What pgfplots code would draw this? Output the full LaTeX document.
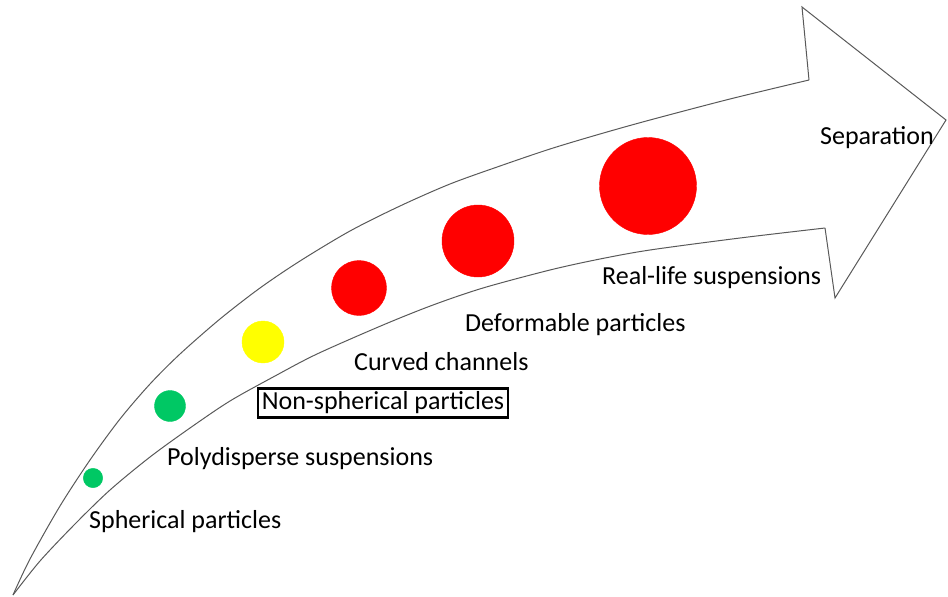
\documentclass[border=0pt]{standalone}
\usepackage{pgfplots}
\pgfplotsset{compat=1.18}
\usepackage{fontspec}
\setmainfont{Carlito}
\definecolor{pgreen}{RGB}{0,200,100}
\definecolor{pyellow}{RGB}{255,255,0}
\definecolor{pred}{RGB}{255,0,0}
\newcommand\lbl{\fontsize{26}{31}\selectfont}
\begin{document}
\begin{tikzpicture}
\begin{axis}[
  width=948pt, height=597pt, scale only axis,
  xmin=0, xmax=948, ymin=0, ymax=597, y dir=reverse,
  hide axis, clip=false,
]
% arrow outline: upper edge
\addplot[black!65, line width=1pt, smooth, tension=0.5] coordinates {
 (13,595) (30,559) (60,506) (90,460) (120,419) (150,384) (180,354) (220,319)
 (260,288) (300,261) (350,231) (400,206) (450,184) (500,166) (550,149)
 (600,134) (650,120) (730,99) (809,80)
};
% arrow head
\addplot[black!65, line width=1pt, line join=miter] coordinates {
 (809,80) (802,7) (946,120) (835,298) (825,228)
};
% lower edge
\addplot[black!65, line width=1pt, smooth, tension=0.5] coordinates {
 (825,228) (740,238) (650,250) (600,259) (550,270) (483,288) (433,305)
 (383,325) (317,354) (275,376) (230,401) (190,428) (150,457) (110,490)
 (75,524) (40,561) (13,595)
};
% particles
\addplot[only marks, mark=*, mark size=9.7pt, color=pgreen] coordinates {(93,478)};
\addplot[only marks, mark=*, mark size=15.5pt, color=pgreen] coordinates {(170,406)};
\addplot[only marks, mark=*, mark size=21pt, color=pyellow] coordinates {(263,342)};
\addplot[only marks, mark=*, mark size=27.5pt, color=pred] coordinates {(359,288)};
\addplot[only marks, mark=*, mark size=36pt, color=pred] coordinates {(478,241)};
\addplot[only marks, mark=*, mark size=48.5pt, color=pred] coordinates {(648,186)};
% labels
\node[anchor=base west, inner sep=0pt] at (axis cs:89,528) {\lbl Spherical particles};
\node[anchor=base west, inner sep=0pt] at (axis cs:167,465) {\lbl Polydisperse suspensions};
\node[draw=black, line width=2.5pt, minimum width=250pt, minimum height=29pt, inner sep=0pt, anchor=center] at (axis cs:383,403) {\lbl Non-spherical particles};
\node[anchor=base west, inner sep=0pt] at (axis cs:354,370) {\lbl Curved channels};
\node[anchor=base west, inner sep=0pt] at (axis cs:465,331) {\lbl Deformable particles};
\node[anchor=base west, inner sep=0pt] at (axis cs:602,284) {\lbl Real-life suspensions};
\node[anchor=base west, inner sep=0pt] at (axis cs:820,144) {\lbl Separation};
\end{axis}
\pgfresetboundingbox
\path (current axis.south west) rectangle (current axis.north east);
\end{tikzpicture}
\end{document}
